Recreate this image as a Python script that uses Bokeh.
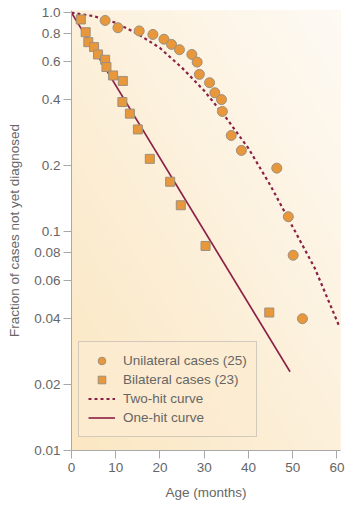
import numpy as np
from bokeh.plotting import figure
from bokeh.models import Range1d, FixedTicker, Legend, LegendItem
from bokeh.embed import file_html
from bokeh.resources import INLINE

# Unilateral cases (circles)
uni_age = [7.6, 10.5, 15.3, 18.4, 20.9, 22.6, 24.4, 27.2, 28.4, 28.9, 31.2, 32.4, 33.9, 34.1,
           36.1, 38.4, 46.4, 49.0, 50.1, 52.2]
uni_frac = [0.922, 0.854, 0.826, 0.796, 0.757, 0.717, 0.678, 0.645, 0.595, 0.523, 0.479, 0.431,
            0.401, 0.354, 0.275, 0.235, 0.195, 0.117, 0.078, 0.040]

# Bilateral cases (squares)
bi_age = [2.1, 3.2, 3.8, 5.1, 6.0, 7.6, 7.9, 9.4, 11.6, 11.5, 13.2, 15.0, 17.7, 22.3, 24.7, 30.3, 44.7]
bi_frac = [0.932, 0.815, 0.734, 0.697, 0.645, 0.610, 0.565, 0.517, 0.488, 0.391, 0.346, 0.293,
           0.215, 0.169, 0.132, 0.086, 0.0427]

# Two-hit curve
two_age = [0, 5, 10, 15, 20, 25, 30, 35, 40, 45, 50, 55, 60.5]
two_frac = [1.0, 0.965, 0.90, 0.80, 0.69, 0.56, 0.44, 0.33, 0.24, 0.162, 0.105, 0.068, 0.037]

# One-hit curve (straight line on log scale)
one_age = [0, 49.4]
one_frac = [1.0, 0.0229]

x_ticks = [0, 10, 20, 30, 40, 50, 60]
y_ticks = [0.01, 0.02, 0.04, 0.06, 0.08, 0.1, 0.2, 0.4, 0.6, 0.8, 1.0]
y_tick_labels = ["0.01", "0.02", "0.04", "0.06", "0.08", "0.1", "0.2", "0.4", "0.6", "0.8", "1.0"]

x_lim = (0, 60.8)
y_lim = (0.01, 1.024)

FONT = "Liberation Sans"
TXT = "#666666"
CURVE = "#8B1F45"
ORANGE = "#E8973A"
EDGE = "#9C9080"

p = figure(width=346, height=505, x_range=Range1d(*x_lim), y_range=Range1d(*y_lim),
           y_axis_type="log", output_backend="svg", toolbar_location=None,
           min_border_left=71, min_border_right=6, min_border_top=10, min_border_bottom=55)
p.background_fill_color = "#FCF0DC"
p.border_fill_color = "white"
p.outline_line_color = None
p.xgrid.visible = False
p.ygrid.visible = False

# diagonal cream gradient for the plot background
n = 64
u = np.linspace(0, 1, n)
t = (u[None, :] + u[:, None]) / 2.0          # row 0 = bottom
c0 = np.array([251, 231, 194])                # bottom-left
c1 = np.array([254, 250, 244])                # top-right
rgb = c0[None, None, :] + (c1 - c0)[None, None, :] * t[:, :, None]
img = np.zeros((n, n), dtype=np.uint32)
view = img.view(dtype=np.uint8).reshape((n, n, 4))
view[:, :, 0] = rgb[:, :, 0].astype(np.uint8)
view[:, :, 1] = rgb[:, :, 1].astype(np.uint8)
view[:, :, 2] = rgb[:, :, 2].astype(np.uint8)
view[:, :, 3] = 255
p.image_rgba(image=[img], x=x_lim[0], y=y_lim[0], dw=x_lim[1] - x_lim[0], dh=y_lim[1] - y_lim[0])

r_two = p.line(two_age, two_frac, line_color=CURVE, line_width=2.2, line_dash="3 3")
r_one = p.line(one_age, one_frac, line_color=CURVE, line_width=1.6)
r_uni = p.scatter(uni_age, uni_frac, marker="circle", size=10, fill_color=ORANGE,
                  line_color=EDGE, line_width=1)
r_bi = p.scatter(bi_age, bi_frac, marker="square", size=9, fill_color=ORANGE,
                 line_color=EDGE, line_width=1)

for ax in (p.xaxis[0], p.yaxis[0]):
    ax.axis_line_color = "#A8A8A8"
    ax.major_tick_line_color = "#A8A8A8"
    ax.minor_tick_line_color = None
    ax.major_tick_in = 0
    ax.major_tick_out = 8
    ax.major_label_text_font = FONT
    ax.major_label_text_font_size = "13.5px"
    ax.major_label_text_color = TXT
    ax.axis_label_text_font = FONT
    ax.axis_label_text_font_size = "13.5px"
    ax.axis_label_text_color = TXT
    ax.axis_label_text_font_style = "normal"

p.xaxis.ticker = FixedTicker(ticks=x_ticks)
p.yaxis.ticker = FixedTicker(ticks=y_ticks, minor_ticks=[])
p.yaxis.major_label_overrides = {t_: l for t_, l in zip(y_ticks, y_tick_labels)}
p.xaxis.axis_label = "Age (months)"
p.yaxis.axis_label = "Fraction of cases not yet diagnosed"
p.xaxis.major_label_standoff = 4
p.yaxis.major_label_standoff = 3
p.xaxis.axis_label_standoff = 10
p.yaxis.axis_label_standoff = 9

legend = Legend(items=[
    LegendItem(label="Unilateral cases (25)", renderers=[r_uni]),
    LegendItem(label="Bilateral cases (23)", renderers=[r_bi]),
    LegendItem(label="Two-hit curve", renderers=[r_two]),
    LegendItem(label="One-hit curve", renderers=[r_one]),
], location=(7, 13))
legend.border_line_color = "#A8A8A8"
legend.background_fill_color = "#FBEBD0"
legend.background_fill_alpha = 0.85
legend.label_text_font = FONT
legend.label_text_font_size = "13.5px"
legend.label_text_color = TXT
legend.glyph_width = 27
legend.glyph_height = 19
legend.label_height = 19
legend.spacing = 0
legend.padding = 9
legend.margin = 0
legend.label_standoff = 8
p.add_layout(legend)

open("out.html", "w").write(file_html(p, INLINE))
